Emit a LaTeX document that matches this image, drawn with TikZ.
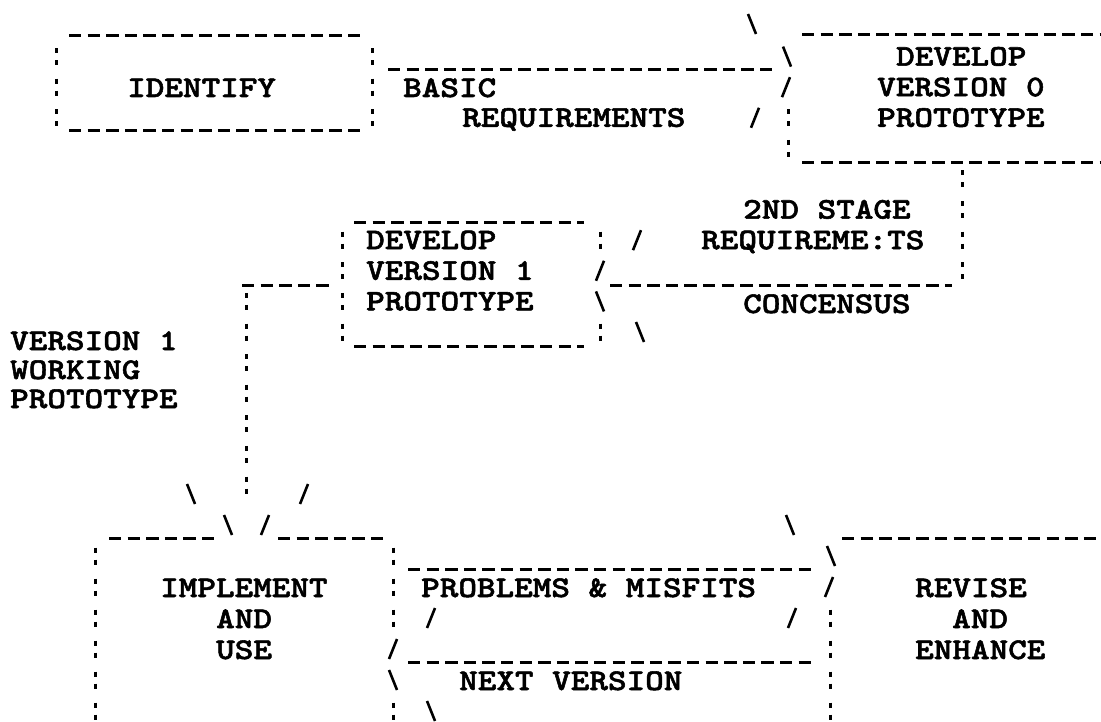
\documentclass[tikz,border=0pt]{standalone}
\usepackage{fontspec}
\newfontfamily\tw[FakeStretch=1.181,FakeBold=1.8]{lmmonolt10-bold.otf}
\newcommand\slashF[2]{\draw[sl] (#1-4,#2+10) -- (#1+4,#2-10);}
\newcommand\slashB[2]{\draw[sl] (#1-4,#2-10) -- (#1+4,#2+10);}
\tikzset{
  lbl/.style={font=\tw\fontsize{30}{30}\selectfont, anchor=base west, inner sep=0pt},
  hd/.style={line width=3pt, dash pattern=on 12.4pt off 6.2pt},
  vd/.style={line width=3pt, dash pattern=on 5pt off 7pt on 5pt off 13.6pt},
  vdl/.style={line width=3pt, dash pattern=on 5pt off 7pt on 5pt off 14pt},
  sl/.style={line width=2.6pt}
}
\begin{document}
\begin{tikzpicture}[x=1pt,y=-1pt]
\fill[white] (0,0) rectangle (1101,722);
\useasboundingbox (0,0) rectangle (1101,722);
% ---------- top section ----------
\slashB{752}{24}
% IDENTIFY box
\draw[hd] (69,36) -- (361,36);
\draw[hd] (69,131) -- (361,131);
\draw[vd] (56,48.1) -- (56,126.3);
\draw[vd] (372,48.1) -- (372,126.3);
\node[lbl] (identify) at (127,88+9) {IDENTIFY};
% basic requirements connector
\draw[hd] (388,70) -- (773,70);
\node[lbl] (basic) at (403,88+9) {BASIC};
\node[lbl] (req1) at (462,117.8+9) {REQUIREMENTS};
\slashB{787}{56.6}
\slashF{786}{87.2}
\slashF{755}{117.8}
\draw[vd] (788,109.3) -- (788,156.9);
% DEVELOP VERSION 0 box
\draw[hd] (802,35) -- (1101,35);
\draw[hd] (802,163) -- (1101,163);
\node[lbl] (dev0a) at (896,56.6+9) {DEVELOP};
\node[lbl] (dev0b) at (877,87.2+9) {VERSION 0};
\node[lbl] (dev0c) at (877,117.8+9) {PROTOTYPE};
% 2nd stage connector
\draw[vd] (962,170.5) -- (962,279.3);
\node[lbl] (stagea) at (743,209.6+9) {2ND STAGE};
\node[lbl] (stageb) at (701,240.2+9) {REQUIREME:TS};
\draw[hd] (610,286) -- (952,286);
\node[lbl] (consensus) at (743,304+9) {CONCENSUS};
% DEVELOP VERSION 1 box
\draw[hd] (354,223) -- (584,223);
\draw[hd] (354,346) -- (584,346);
\draw[vd] (342,231.7) -- (342,340.5);
\draw[vd] (600,231.7) -- (600,248.7);
\draw[vd] (600,323.5) -- (600,340.5);
\slashF{600}{270.8}
\slashB{600}{301.4}
\slashF{637}{240.2}
\slashB{640}{332}
\node[lbl] (dev1a) at (366,240.2+9) {DEVELOP};
\node[lbl] (dev1b) at (366,270.8+9) {VERSION 1};
\node[lbl] (dev1c) at (366,301.4+9) {PROTOTYPE};
% working prototype connector
\draw[hd] (242,286) -- (330,286);
\draw[vd] (246,292.9) -- (246,502.5);
\node[lbl] (worka) at (10,341+9) {VERSION 1};
\node[lbl] (workb) at (10,370+9) {WORKING};
\node[lbl] (workc) at (10,399+9) {PROTOTYPE};
% ---------- lower section ----------
\slashB{191}{494}
\slashF{304}{494}
\slashB{228}{525}
\slashF{265}{525}
% IMPLEMENT box
\draw[hd] (109,538) -- (215,538);
\draw[hd] (278,538) -- (384,538);
\draw[vdl] (95,547.5) -- (95,722);
\draw[vdl] (393,547.5) -- (393,626.5);
\draw[vdl] (393,702.5) -- (393,719.5);
\node[lbl] (impla) at (160,588+9) {IMPLEMENT};
\node[lbl] (implb) at (216,619+9) {AND};
\node[lbl] (implc) at (216,650+9) {USE};
% problems / next version connectors
\draw[hd] (408,569) -- (812,569);
\draw[hd] (408,662) -- (812,662);
\node[lbl] (probs) at (421,588+9) {PROBLEMS \& MISFITS};
\node[lbl] (nextv) at (459,681+9) {NEXT VERSION};
\slashF{431}{618}
\slashB{431}{711}
\slashF{393}{649}
\slashB{393}{680}
\slashB{790}{525}
\slashB{831}{556}
\slashF{829}{587}
\slashF{792}{618}
\draw[vdl] (830,609.5) -- (830,722);
% REVISE box
\draw[hd] (842,538) -- (1101,538);
\node[lbl] (reva) at (915,588+9) {REVISE};
\node[lbl] (revb) at (952,619+9) {AND};
\node[lbl] (revc) at (915,650+9) {ENHANCE};
\end{tikzpicture}
\end{document}
